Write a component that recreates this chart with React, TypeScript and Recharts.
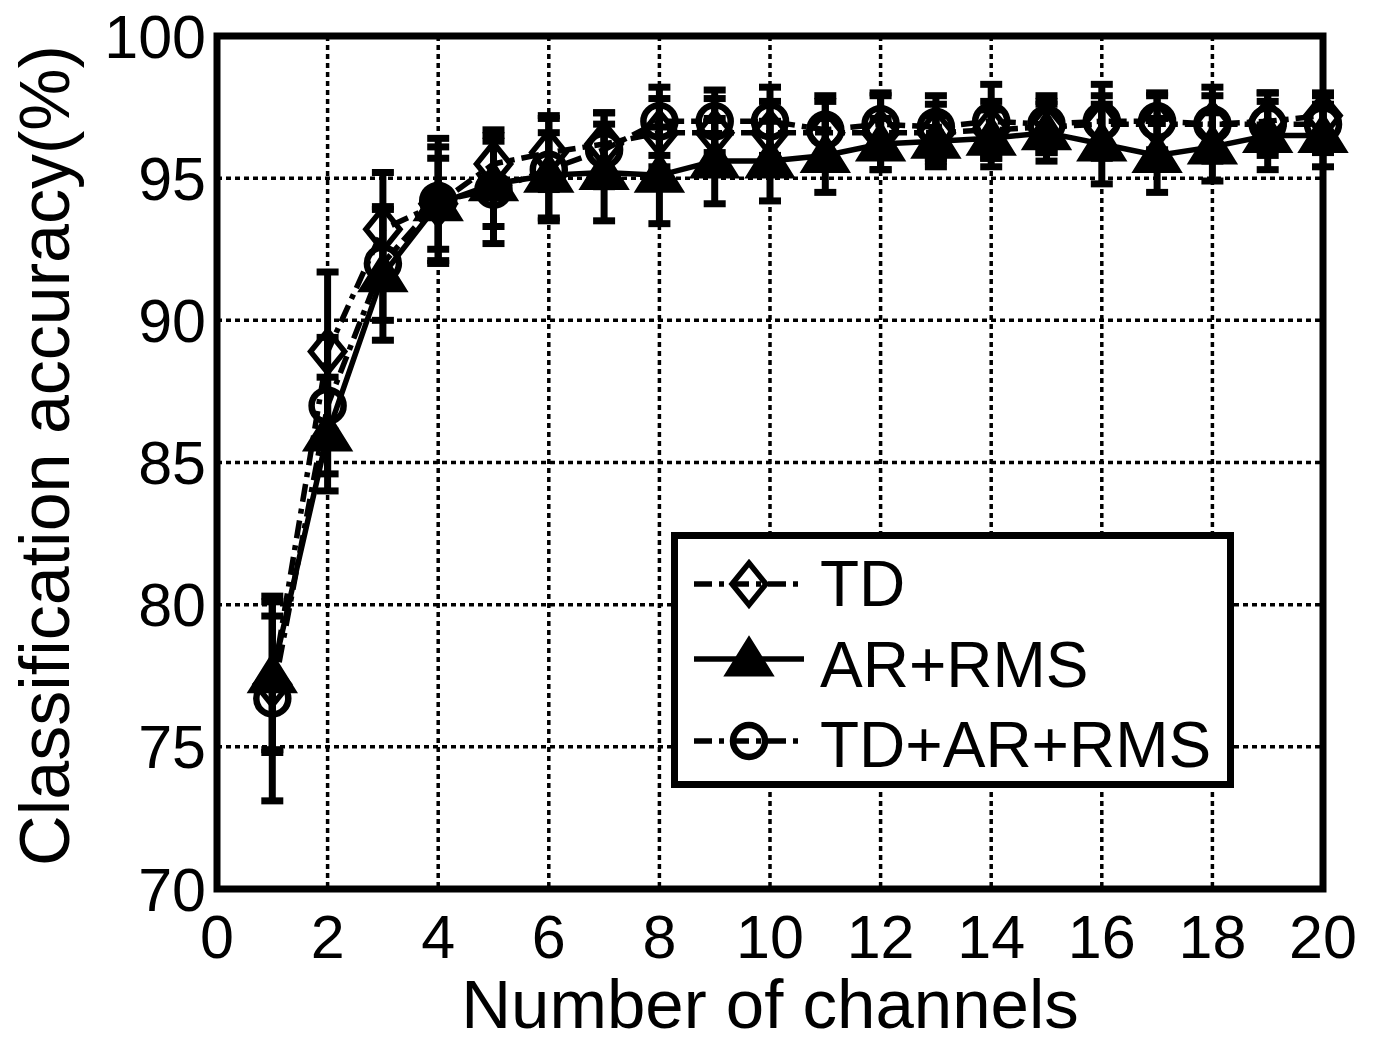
import {
  ComposedChart,
  Line,
  XAxis,
  YAxis,
  CartesianGrid,
  ErrorBar,
  Legend,
  ReferenceArea,
  Label,
} from 'recharts';

const FONT = '"Liberation Sans", Arial, Helvetica, sans-serif';

// number of channels used
const channels = [1, 2, 3, 4, 5, 6, 7, 8, 9, 10, 11, 12, 13, 14, 15, 16, 17, 18, 19, 20];

// mean classification accuracy (%) and its standard deviation
const tdAcc = [77.2, 88.9, 93.2, 94.1, 95.5, 95.9, 96.2, 96.6, 96.6, 96.6, 96.6, 96.6, 96.6, 96.7, 96.8, 96.9, 96.9, 96.9, 97.0, 97.2];
const tdErr = [2.4, 2.8, 2.0, 2.0, 1.2, 1.3, 1.1, 1.2, 1.2, 1.1, 1.1, 1.3, 1.0, 1.0, 0.9, 1.0, 1.0, 1.0, 1.0, 0.8];

const arAcc = [77.5, 86.0, 91.6, 94.1, 94.8, 95.1, 95.2, 95.1, 95.6, 95.6, 95.8, 96.2, 96.3, 96.4, 96.6, 96.2, 95.8, 96.1, 96.5, 96.5];
const arErr = [2.6, 2.0, 2.3, 1.6, 1.5, 1.5, 1.7, 1.7, 1.5, 1.4, 1.3, 0.9, 0.9, 1.0, 1.0, 1.4, 1.3, 1.2, 1.2, 1.1];

const allAcc = [76.7, 87.0, 92.0, 94.2, 94.6, 95.3, 96.0, 97.0, 97.0, 97.0, 96.7, 96.9, 96.8, 97.0, 96.9, 97.0, 97.0, 96.9, 96.9, 96.9];
const allErr = [3.6, 2.4, 2.0, 2.2, 1.9, 1.8, 1.3, 1.2, 1.1, 1.2, 1.2, 1.1, 1.1, 1.3, 1.0, 1.3, 1.0, 1.3, 1.1, 1.0];

const xTicks = [0, 2, 4, 6, 8, 10, 12, 14, 16, 18, 20];
const yTicks = [70, 75, 80, 85, 90, 95, 100];

const seriesNames = ['TD', 'AR+RMS', 'TD+AR+RMS'];

const data = channels.map((c, i) => ({
  channels: c,
  td: tdAcc[i],
  tdErr: tdErr[i],
  ar: arAcc[i],
  arErr: arErr[i],
  all: allAcc[i],
  allErr: allErr[i],
}));

const DASH_DOT = '18 7 5 7';

function Diamond({ cx, cy }: { cx: number; cy: number }) {
  return (
    <polygon
      points={`${cx},${cy - 21} ${cx + 17},${cy} ${cx},${cy + 21} ${cx - 17},${cy}`}
      fill="none"
      stroke="#000"
      strokeWidth={5.5}
    />
  );
}

function Triangle({ cx, cy }: { cx: number; cy: number }) {
  return (
    <polygon
      points={`${cx},${cy - 21} ${cx + 23},${cy + 16} ${cx - 23},${cy + 16}`}
      fill="#000"
      stroke="#000"
      strokeWidth={3}
    />
  );
}

function Circle({ cx, cy }: { cx: number; cy: number }) {
  return <circle cx={cx} cy={cy} r={16} fill="none" stroke="#000" strokeWidth={6.5} />;
}

const renderDot = (Shape: typeof Diamond) => (props: any) => {
  const { cx, cy, index } = props;
  if (cx == null || cy == null) return <g key={index} />;
  return (
    <g key={index}>
      <Shape cx={cx} cy={cy} />
    </g>
  );
};

function LegendBox() {
  const rows = [
    { name: seriesNames[0], Shape: Diamond, dash: DASH_DOT, lineY: 52, textY: 74 },
    { name: seriesNames[1], Shape: Triangle, dash: undefined, lineY: 127, textY: 155 },
    { name: seriesNames[2], Shape: Circle, dash: DASH_DOT, lineY: 209, textY: 235 },
  ];
  return (
    <svg width={563} height={256} style={{ display: 'block' }}>
      <rect x={3.5} y={3.5} width={556} height={249} fill="#fff" stroke="#000" strokeWidth={7} />
      {rows.map((r) => (
        <g key={r.name}>
          <line x1={23} x2={133} y1={r.lineY} y2={r.lineY} stroke="#000" strokeWidth={5.5} strokeDasharray={r.dash} />
          <r.Shape cx={78} cy={r.lineY} />
          <text x={149} y={r.textY} fontFamily={FONT} fontSize={64} fill="#000">
            {r.name}
          </text>
        </g>
      ))}
    </svg>
  );
}

export default function App() {
  return (
    <div style={{ position: 'absolute', left: 0, top: 0, background: '#fff' }}>
      <ComposedChart
        width={1374}
        height={1038}
        data={data}
        margin={{ top: 36, right: 51, bottom: 0, left: 0 }}
      >
        <CartesianGrid stroke="#000" strokeWidth={3.5} strokeDasharray="5 4" />
        <XAxis
          dataKey="channels"
          type="number"
          domain={[0, 20]}
          ticks={xTicks}
          height={149}
          axisLine={false}
          tickLine={false}
          tickSize={0}
          tickMargin={26}
          tick={{ fontSize: 61, fill: '#000', fontFamily: FONT }}
        >
          <Label
            content={({ viewBox }: any) => (
              <text
                x={viewBox.x + viewBox.width / 2}
                y={viewBox.y + viewBox.height - 10}
                textAnchor="middle"
                fontFamily={FONT}
                fontSize={69}
                fill="#000"
              >
                Number of channels
              </text>
            )}
          />
        </XAxis>
        <YAxis
          type="number"
          domain={[70, 100]}
          ticks={yTicks}
          width={217}
          axisLine={false}
          tickLine={false}
          tickSize={0}
          tickMargin={11}
          tick={{ fontSize: 61, fill: '#000', fontFamily: FONT }}
        >
          <Label
            content={({ viewBox }: any) => (
              <text
                transform={`translate(${viewBox.x + 44},${viewBox.y + viewBox.height / 2 - 7}) rotate(-90)`}
                textAnchor="middle"
                dy="0.355em"
                fontFamily={FONT}
                fontSize={70}
                fill="#000"
              >
                Classification accuracy(%)
              </text>
            )}
          />
        </YAxis>
        <Line
          dataKey="td"
          name={seriesNames[0]}
          stroke="#000"
          strokeWidth={5.5}
          strokeDasharray={DASH_DOT}
          dot={renderDot(Diamond)}
          isAnimationActive={false}
        >
          <ErrorBar dataKey="tdErr" direction="y" width={11} strokeWidth={7} stroke="#000" />
        </Line>
        <Line
          dataKey="ar"
          name={seriesNames[1]}
          stroke="#000"
          strokeWidth={5.5}
          dot={renderDot(Triangle)}
          isAnimationActive={false}
        >
          <ErrorBar dataKey="arErr" direction="y" width={11} strokeWidth={7} stroke="#000" />
        </Line>
        <Line
          dataKey="all"
          name={seriesNames[2]}
          stroke="#000"
          strokeWidth={5.5}
          strokeDasharray={DASH_DOT}
          dot={renderDot(Circle)}
          isAnimationActive={false}
        >
          <ErrorBar dataKey="allErr" direction="y" width={11} strokeWidth={7} stroke="#000" />
        </Line>
        <ReferenceArea x1={0} x2={20} y1={70} y2={100} fill="none" stroke="#000" strokeWidth={7} />
        <Legend
          layout="vertical"
          align="center"
          verticalAlign="middle"
          content={() => <LegendBox />}
          wrapperStyle={{ left: 671, top: 532, width: 563, height: 256 }}
        />
      </ComposedChart>
    </div>
  );
}
